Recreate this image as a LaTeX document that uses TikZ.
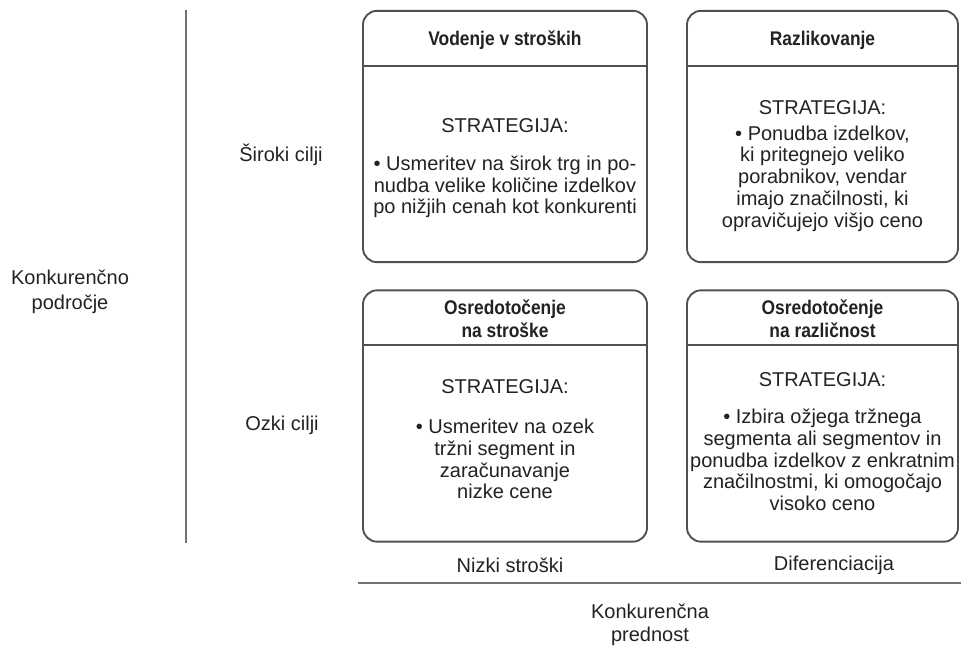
\documentclass[tikz,border=0pt]{standalone}
\usepackage{fontspec}
\setmainfont{Liberation Sans}
\newfontfamily\headfont[FakeStretch=0.88]{Liberation Sans}
\definecolor{ink}{RGB}{34,34,34}
\definecolor{boxgray}{RGB}{80,80,80}
\definecolor{axisgray}{RGB}{115,115,115}
\begin{document}
\begin{tikzpicture}[x=0.75pt,y=-0.75pt,
  card/.style={draw=boxgray,line width=1.4pt,rounded corners=10.5pt,
    fill=white,inner sep=0pt,minimum height=188.5pt},
  wide/.style={card,minimum width=213pt},
  narrow/.style={card,minimum width=203.25pt},
  rule/.style={draw=boxgray,line width=1.4pt},
  axis/.style={draw=axisgray,line width=1.4pt},
  txt/.style={text=ink,align=center,inner sep=0pt,
    font=\fontsize{15pt}{16.3pt}\selectfont},
  ttl/.style={text=ink,align=center,inner sep=0pt,
    font=\headfont\fontsize{14.8pt}{17.25pt}\selectfont\bfseries}]
\useasboundingbox (0,0) rectangle (961,652);

% vertical axis: competitive scope
\coordinate (vtop) at (186,10);
\coordinate (vbot) at (186,543);
\draw[axis] (vtop) -- (vbot);

% horizontal axis: competitive advantage
\coordinate (hl) at (358,583);
\coordinate (hr) at (961,583);
\draw[axis] (hl) -- (hr);

% strategy cards
\node[wide]   (b1) at (505,136.5) {};
\node[narrow] (b2) at (822.5,136.5) {};
\node[wide]   (b3) at (505,416) {};
\node[narrow] (b4) at (822.5,416) {};

% header separators
\foreach \b in {b1,b2,b3,b4}
  \draw[rule] ([yshift=-42pt]\b.north west) -- ([yshift=-42pt]\b.north east);

% card 1
\node[ttl] (t1) at (505,40) {Vodenje v stroških};
\node[txt] (s1) at (505,126) {STRATEGIJA:};
\node[txt] (d1) at (505,187) {• Usmeritev na širok trg in po-\\nudba velike količine izdelkov\\po nižjih cenah kot konkurenti};

% card 2
\node[ttl] (t2) at (822.5,40) {Razlikovanje};
\node[txt] (s2) at (822.5,108) {STRATEGIJA:};
\node[txt] (d2) at (822.5,178.5) {• Ponudba izdelkov,\\ki pritegnejo veliko\\porabnikov, vendar\\imajo značilnosti, ki\\opravičujejo višjo ceno};

% card 3
\node[ttl] (t3) at (505,318.5) {Osredotočenje\\na stroške};
\node[txt] (s3) at (505,387) {STRATEGIJA:};
\node[txt] (d3) at (505,459) {• Usmeritev na ozek\\tržni segment in\\zaračunavanje\\nizke cene};

% card 4
\node[ttl] (t4) at (822.5,318.5) {Osredotočenje\\na različnost};
\node[txt] (s4) at (822.5,380) {STRATEGIJA:};
\node[txt] (d4) at (822.5,460) {• Izbira ožjega tržnega\\segmenta ali segmentov in\\ponudba izdelkov z enkratnim\\značilnostmi, ki omogočajo\\visoko ceno};

% row labels
\node[txt] (r1) at (281,155) {Široki cilji};
\node[txt] (r2) at (282,425) {Ozki cilji};
\node[txt,font=\fontsize{15pt}{18.5pt}\selectfont] (ya) at (70,292) {Konkurenčno\\področje};

% column labels
\node[txt] (c1) at (510,565) {Nizki stroški};
\node[txt] (c2) at (834,565) {Diferenciacija};
\node[txt,font=\fontsize{15pt}{17pt}\selectfont] (xa) at (650,625) {Konkurenčna\\prednost};
\end{tikzpicture}
\end{document}
